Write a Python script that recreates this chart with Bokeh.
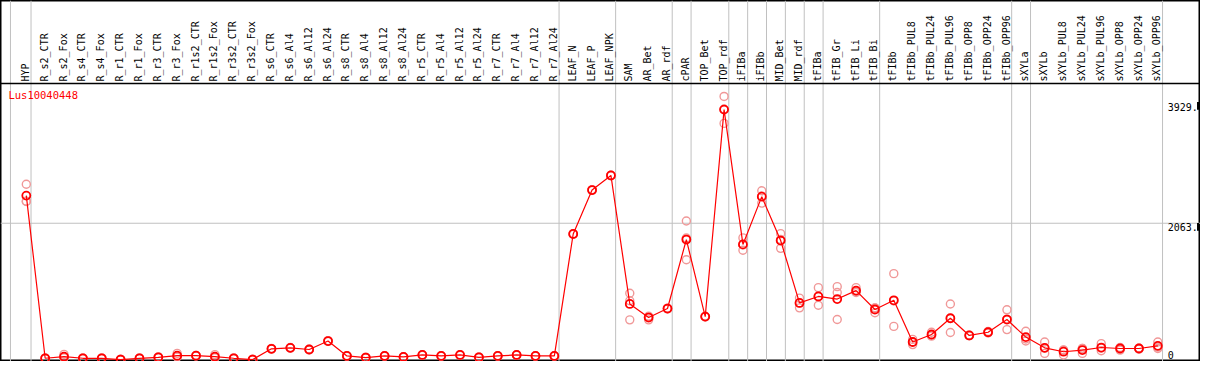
import math
from bokeh.plotting import figure
from bokeh.models import Range1d
from bokeh.core.properties import value
from bokeh.embed import file_html
from bokeh.resources import INLINE

categories = ["HYP", "R_s2_CTR", "R_s2_Fox", "R_s4_CTR", "R_s4_Fox", "R_r1_CTR", "R_r1_Fox",
              "R_r3_CTR", "R_r3_Fox", "R_r1s2_CTR", "R_r1s2_Fox", "R_r3s2_CTR", "R_r3s2_Fox",
              "R_s6_CTR", "R_s6_Al4", "R_s6_Al12", "R_s6_Al24", "R_s8_CTR", "R_s8_Al4", "R_s8_Al12",
              "R_s8_Al24", "R_r5_CTR", "R_r5_Al4", "R_r5_Al12", "R_r5_Al24", "R_r7_CTR", "R_r7_Al4",
              "R_r7_Al12", "R_r7_Al24", "LEAF_N", "LEAF_P", "LEAF_NPK", "SAM", "AR_Bet", "AR_rdf",
              "cPAR", "TOP_Bet", "TOP_rdf", "iFIBa", "iFIBb", "MID_Bet", "MID_rdf", "tFIBa",
              "tFIB_Gr", "tFIB_Li", "tFIB_Bi", "tFIBb", "tFIBb_PUL8", "tFIBb_PUL24", "tFIBb_PUL96",
              "tFIBb_OPP8", "tFIBb_OPP24", "tFIBb_OPP96", "sXYLa", "sXYLb", "sXYLb_PUL8",
              "sXYLb_PUL24", "sXYLb_PUL96", "sXYLb_OPP8", "sXYLb_OPP24", "sXYLb_OPP96"]

means = [2577, 20, 46, 20, 20, 0, 20, 35, 61, 61, 46, 20, 0,
         169, 184, 158, 291, 57, 31, 57, 41, 72, 57, 72, 35, 57, 72, 57, 57,
         1974, 2664, 2894, 874, 660, 802, 1886, 675, 3929, 1810, 2561, 1871, 890,
         992, 951, 1084, 787, 931, 276, 394, 649, 379, 429, 629,
         353, 184, 123, 149, 189, 174, 174, 215]

rep1 = [2756, 25, 81, 25, 25, 5, 25, 40, 97, 66, 77, 25, 5,
        174, 189, 163, 296, 62, 36, 62, 46, 77, 62, 77, 40, 62, 77, 62, 62,
        1979, 2669, 2899, 1043, 675, 807, 2178, 680, 4136, 1912, 2653, 1979, 966,
        1130, 1146, 1130, 813, 1350, 317, 429, 874, 384, 440, 782,
        445, 276, 149, 174, 250, 190, 180, 276]

rep2 = [2485, 15, 30, 15, 15, 0, 15, 30, 40, 56, 30, 15, 0,
        164, 179, 153, 286, 52, 26, 52, 36, 67, 52, 67, 30, 52, 67, 52, 52,
        1969, 2659, 2889, 624, 624, 797, 1569, 670, 3712, 1718, 2459, 1748, 813,
        854, 629, 1054, 736, 521, 235, 368, 425, 374, 420, 471,
        291, 97, 72, 97, 138, 149, 165, 174]

rep3 = [2490, 20, 30, 20, 20, 0, 20, 35, 45, 61, 31, 20, 0,
        169, 184, 158, 291, 57, 31, 57, 41, 72, 57, 72, 35, 57, 72, 57, 57,
        1974, 2664, 2894, 925, 680, 802, 1910, 675, 3939, 1800, 2571, 1886, 890,
        992, 1054, 1068, 812, 922, 276, 385, 648, 379, 429, 634,
        323, 179, 148, 176, 179, 183, 177, 195]

group_breaks = [0, 28, 31, 34, 35, 37, 38, 39, 40, 41, 42, 45, 52, 53, 60]
axis_labels = ["3929.", "2063.", "0"]
axis_label_vals = [3972, 2086, 77]
title = "Lus10040448"

# geometry of the reference (pixels)
X0, DX = 26.0, 19.0
Y0, K = 368.0, 0.0652
W_REF, H_REF = 1209.0, 370.0

def vx(px):
    return (px - X0) / DX

def vy(py):
    return (Y0 - py) / K

p = figure(width=1200, height=361, x_range=Range1d(vx(0), vx(W_REF)),
           y_range=Range1d(vy(H_REF), vy(0)), toolbar_location=None,
           output_backend="svg", x_axis_type=None, y_axis_type=None,
           min_border=0, min_border_left=0, min_border_right=0,
           min_border_top=0, min_border_bottom=0)
p.xgrid.visible = False
p.ygrid.visible = False
p.outline_line_color = "black"
p.outline_line_width = 2
p.background_fill_color = "white"

xs = list(range(len(categories)))

# vertical separators
vlines = [-0.84] + [b + 0.25 for b in group_breaks]
p.segment(x0=vlines, x1=vlines, y0=[vy(H_REF)] * len(vlines), y1=[vy(0)] * len(vlines),
          line_color="#c0c0c0", line_width=1)
# horizontal midline
p.segment(x0=[vx(0)], x1=[vx(W_REF)], y0=[vy(228.3)], y1=[vy(228.3)],
          line_color="#c0c0c0", line_width=1)
# header separator
p.segment(x0=[vx(0)], x1=[vx(W_REF)], y0=[vy(85)], y1=[vy(85)],
          line_color="black", line_width=1.5)

# header labels
p.text(x=[x - 0.05 for x in xs], y=[vy(83)] * len(xs), text=categories,
       angle=math.pi / 2, text_align="left", text_baseline="middle",
       text_font=value("DejaVu Sans Mono"), text_font_size="10px", text_color="black")

# title
p.text(x=[vx(8)], y=[vy(91)], text=[title], text_align="left", text_baseline="top",
       text_font=value("DejaVu Sans Mono"), text_font_size="10.5px", text_color="red")

# right axis labels
p.text(x=[vx(1176)] * 3, y=axis_label_vals, text=axis_labels, text_align="left",
       text_baseline="middle", text_font=value("DejaVu Sans Mono"),
       text_font_size="10px", text_color="black")
p.segment(x0=[vx(1206.5)] * 2, x1=[vx(1206.5)] * 2, y0=[vy(104), vy(228)], y1=[vy(112), vy(236)],
          line_color="black", line_width=2)

# replicates
light = "#f09898"
for reps in (rep1, rep2, rep3):
    p.scatter(x=xs, y=reps, marker="circle", size=8, fill_color=None,
              line_color=light, line_width=1.4)

# mean line + points
p.line(x=xs, y=means, line_color="red", line_width=1.2)
p.scatter(x=xs, y=means, marker="circle", size=8, fill_color=None,
          line_color="red", line_width=1.8)

open("out.html", "w").write(file_html(p, INLINE))
